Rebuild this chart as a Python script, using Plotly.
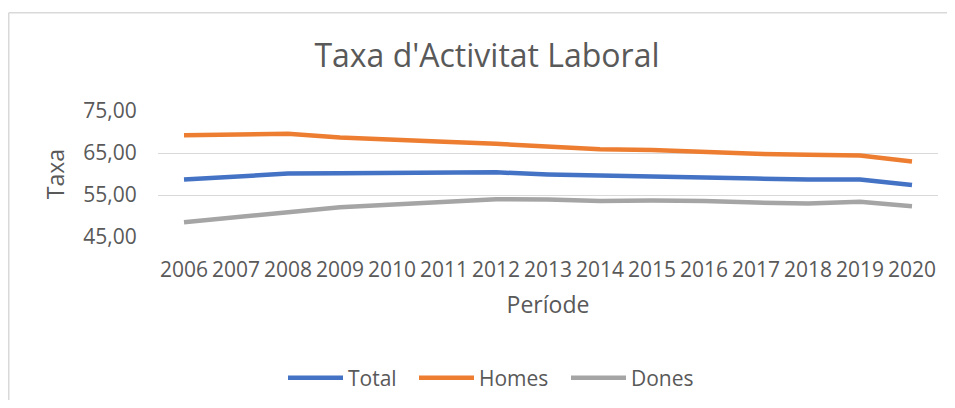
import plotly.graph_objects as go

years = ["2006", "2007", "2008", "2009", "2010", "2011", "2012", "2013",
         "2014", "2015", "2016", "2017", "2018", "2019", "2020"]
total = [58.7, 59.4, 60.1, 60.2, 60.3, 60.3, 60.4, 59.9, 59.6, 59.4, 59.1, 58.9, 58.7, 58.7, 57.4]
homes = [69.2, 69.4, 69.6, 68.7, 68.3, 67.7, 67.2, 66.6, 65.9, 65.7, 65.2, 64.8, 64.6, 64.4, 63.0]
dones = [48.5, 49.6, 50.9, 52.1, 52.7, 53.4, 54.0, 53.9, 53.6, 53.7, 53.6, 53.2, 53.0, 53.4, 52.3]

series_names = ["Total", "Homes", "Dones"]
series_values = [total, homes, dones]
series_colors = ["#4472C4", "#ED7D31", "#A5A5A5"]

title_text = "Taxa d'Activitat Laboral"
x_title = "Període"
y_title = "Taxa"
y_ticks = [45, 55, 65, 75]

FONT = "Open Sans, Calibri, sans-serif"
TXT = "#595959"

# The page body has an 8px margin; positions below are in figure pixels
W, H = 939, 392
ml, mt = 150, 103
pw, ph = 780, 126
mr, mb = W - ml - pw, H - mt - ph

def px_x(x):
    return (x - ml) / pw

def px_y(y):
    return (H - mb - y) / ph

legend_ids = ["legend", "legend2", "legend3"]
legend_starts = [275, 406, 558]   # left edge of each legend entry (figure px)

fig = go.Figure()
for name, vals, col, lid in zip(series_names, series_values, series_colors, legend_ids):
    fig.add_trace(go.Scatter(x=years, y=vals, name=name, mode="lines",
                             line=dict(color=col, width=4.5), legend=lid))

legend_common = dict(orientation="h", xanchor="left", xref="paper",
                     y=px_y(370), yanchor="middle", yref="paper",
                     font=dict(size=21, color=TXT, family=FONT),
                     itemwidth=55, bgcolor="rgba(0,0,0,0)", borderwidth=0)

layout_legends = {lid: dict(x=px_x(xs), **legend_common)
                  for lid, xs in zip(legend_ids, legend_starts)}

border = dict(color="#D9D9D9", width=1.5)
fig.update_layout(
    width=W, height=H,
    margin=dict(l=ml, r=mr, t=mt, b=mb, autoexpand=False),
    paper_bgcolor="white", plot_bgcolor="white",
    font=dict(family=FONT, color=TXT, size=20),
    title=dict(text=title_text, font=dict(size=32, color=TXT, family=FONT),
               x=479 / W, xanchor="center", xref="container",
               y=1 - 48 / H, yanchor="middle", yref="container"),
    showlegend=True,
    shapes=[
        dict(type="line", xref="paper", yref="paper", layer="below",
             x0=px_x(0.75), x1=px_x(0.75), y0=px_y(H + 5), y1=px_y(4.75), line=border),
        dict(type="line", xref="paper", yref="paper", layer="below",
             x0=px_x(0.75), x1=px_x(W + 5), y0=px_y(4.75), y1=px_y(4.75), line=border),
    ],
    **layout_legends,
)

fig.update_xaxes(type="category", range=[-0.5, len(years) - 0.5],
                 showgrid=False, showline=False, zeroline=False,
                 ticks="outside", ticklen=14, tickcolor="rgba(0,0,0,0)",
                 tickfont=dict(size=21, color=TXT, family=FONT),
                 title=dict(text=x_title, font=dict(size=23, color=TXT, family=FONT), standoff=14))
fig.update_yaxes(range=[45, 75], tickvals=y_ticks,
                 ticktext=[f"{v:.2f}".replace(".", ",") for v in y_ticks],
                 showgrid=True, gridcolor="#D9D9D9", gridwidth=1.3,
                 showline=False, zeroline=False,
                 ticks="outside", ticklen=16, tickcolor="rgba(0,0,0,0)",
                 tickfont=dict(size=21, color=TXT, family=FONT),
                 title=dict(text=y_title, font=dict(size=23, color=TXT, family=FONT), standoff=12))

fig.write_html("out.html", config={"displayModeBar": False})
